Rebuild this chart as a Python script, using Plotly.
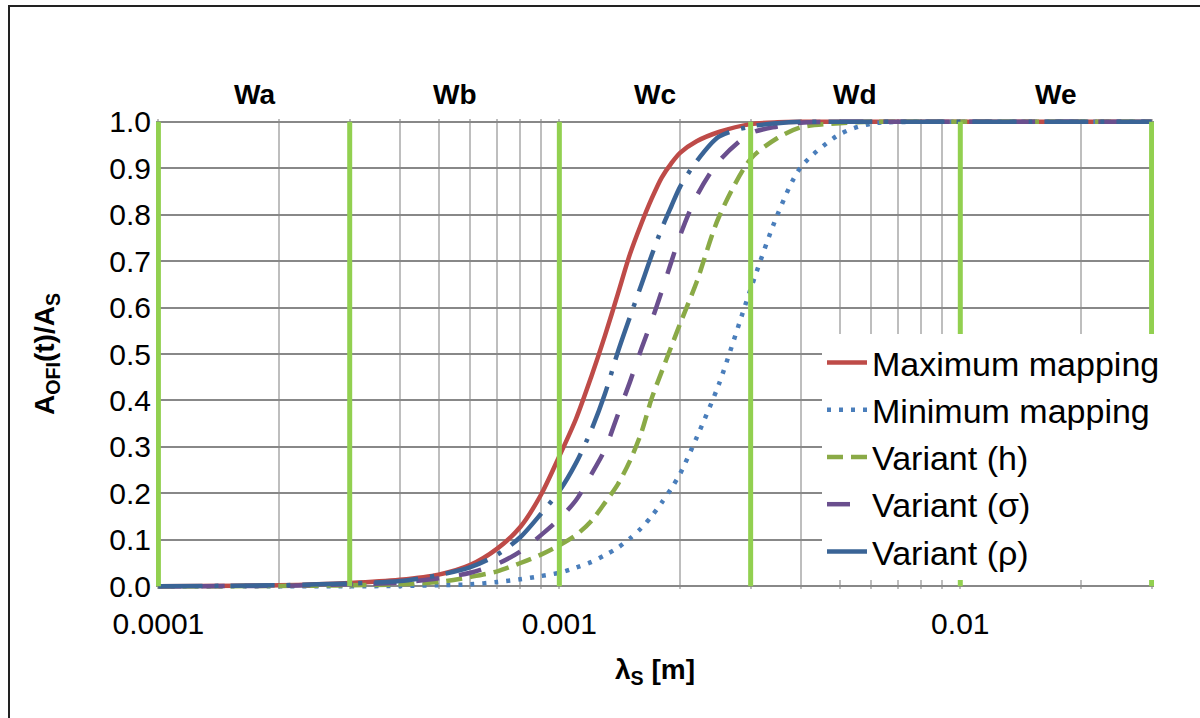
import math
import plotly.graph_objects as go

# ---------------- data ----------------
lam = [0.0001, 0.0002, 0.0003, 0.0004, 0.0005, 0.0006, 0.0007, 0.0008, 0.0009,
       0.001, 0.0011, 0.0012, 0.0013, 0.0014, 0.0015, 0.0016, 0.0017, 0.0018,
       0.0019, 0.002, 0.0022, 0.0025, 0.003, 0.0035, 0.004, 0.005, 0.006,
       0.008, 0.01, 0.015, 0.02, 0.03]

max_mapping = [0.0, 0.002, 0.007, 0.014, 0.025, 0.046, 0.081, 0.128, 0.197,
               0.28, 0.36, 0.45, 0.54, 0.63, 0.715, 0.78, 0.835, 0.88,
               0.91, 0.933, 0.958, 0.978, 0.995, 0.999, 1.0, 1.0, 1.0,
               1.0, 1.0, 1.0, 1.0, 1.0]

min_mapping = [0.0, 0.0, 0.0, 0.0005, 0.002, 0.004, 0.009, 0.015, 0.022,
               0.029, 0.04, 0.052, 0.067, 0.083, 0.103, 0.125, 0.151, 0.18,
               0.21, 0.242, 0.32, 0.435, 0.64, 0.80, 0.902, 0.973, 0.996,
               1.0, 1.0, 1.0, 1.0, 1.0]

variant_h = [0.0, 0.0005, 0.002, 0.004, 0.009, 0.02, 0.032, 0.05, 0.068,
             0.088, 0.11, 0.14, 0.18, 0.22, 0.27, 0.33, 0.405, 0.462,
             0.515, 0.565, 0.655, 0.795, 0.92, 0.965, 0.988, 0.997, 1.0,
             1.0, 1.0, 1.0, 1.0, 1.0]

variant_sigma = [0.0, 0.001, 0.004, 0.008, 0.017, 0.029, 0.048, 0.075, 0.11,
                 0.145, 0.185, 0.24, 0.295, 0.37, 0.44, 0.51, 0.572, 0.635,
                 0.697, 0.755, 0.84, 0.915, 0.975, 0.99, 0.998, 1.0, 1.0,
                 1.0, 1.0, 1.0, 1.0, 1.0]

variant_rho = [0.0, 0.002, 0.006, 0.011, 0.024, 0.041, 0.068, 0.106, 0.156,
               0.205, 0.265, 0.335, 0.415, 0.505, 0.58, 0.648, 0.713, 0.77,
               0.817, 0.86, 0.915, 0.968, 0.99, 0.997, 1.0, 1.0, 1.0,
               1.0, 1.0, 1.0, 1.0, 1.0]

zone_bounds = [0.0001, 0.0003, 0.001, 0.003, 0.01, 0.03]
zone_labels = ["Wa", "Wb", "Wc", "Wd", "We"]

x_tickvals = [0.0001, 0.0002, 0.0003, 0.0004, 0.0005, 0.0006, 0.0007, 0.0008, 0.0009,
              0.001, 0.002, 0.003, 0.004, 0.005, 0.006, 0.007, 0.008, 0.009,
              0.01, 0.02, 0.03]
x_ticktext = ["0.0001", "", "", "", "", "", "", "", "",
              "0.001", "", "", "", "", "", "", "", "",
              "0.01", "", ""]
y_tickvals = [0.0, 0.1, 0.2, 0.3, 0.4, 0.5, 0.6, 0.7, 0.8, 0.9, 1.0]

FONT = "Arial, Liberation Sans, sans-serif"

series = [
    ("Maximum mapping", max_mapping, "#BE4B48", "solid"),
    ("Minimum mapping", min_mapping, "#4A7EBB", "4px,8px"),
    ("Variant (h)", variant_h, "#8AAA46", "16px,8px"),
    ("Variant (σ)", variant_sigma, "#6A4F8E", "23px,20px"),
    ("Variant (ρ)", variant_rho, "#3A6496", "44px,12px,4px,12px"),
]

# plot-area geometry (pixels) used for paper-coordinate placement
L, R, T, B = 156, 46, 119, 129
PW, PH = 1200 - L - R, 718 - T - B
PAD_X, PAD_Y = 0.006, 0.006

fig = go.Figure()

for name, ys, color, dash in series:
    fig.add_trace(go.Scatter(
        x=lam, y=ys, name=name, mode="lines",
        line=dict(color=color, width=4.5, dash=dash, shape="spline", smoothing=0.8),
    ))

# green zone boundary lines
gx, gy = [], []
for b in zone_bounds:
    gx += [b, b, None]
    gy += [0.0, 1.0, None]
fig.add_trace(go.Scatter(x=gx, y=gy, mode="lines", showlegend=False,
                         hoverinfo="skip",
                         line=dict(color="#92D050", width=5)))

# zone labels
for i, lab in enumerate(zone_labels):
    xc = math.sqrt(zone_bounds[i] * zone_bounds[i + 1])
    fig.add_annotation(x=math.log10(xc), xref="x", y=(718 - B - 95) / PH, yref="paper",
                       text="<b>%s</b>" % lab, showarrow=False,
                       font=dict(family=FONT, size=28, color="black"),
                       yanchor="middle")

# outer frame
fig.add_shape(type="rect", xref="paper", yref="paper",
              x0=(9 - L) / PW, x1=(1212 - L) / PW,
              y0=(718 - B - 730) / PH, y1=(718 - B - 6) / PH,
              line=dict(color="#222222", width=2), fillcolor="rgba(0,0,0,0)")

fig.update_layout(
    width=1200, height=718, autosize=False,
    margin=dict(l=L, r=R, t=T, b=B),
    paper_bgcolor="white", plot_bgcolor="white",
    font=dict(family=FONT, color="black"),
    showlegend=True,
    legend=dict(x=(822 - L) / PW, xanchor="left", y=(718 - B - 334) / PH, yanchor="top",
                bgcolor="white", borderwidth=0,
                font=dict(family=FONT, size=34, color="black"),
                tracegroupgap=0, itemwidth=40),
    xaxis=dict(type="log", range=[-4 - PAD_X, math.log10(0.03) + PAD_X],
               tickvals=x_tickvals, ticktext=x_ticktext, tickangle=0,
               automargin=False,
               showgrid=True, gridcolor="#BEBEBE", gridwidth=1.5,
               showline=False, zeroline=False, ticks="",
               ticklabelstandoff=14,
               tickfont=dict(family=FONT, size=30, color="black"),
               title=dict(text="<b>λ<sub>S</sub> [m]</b>",
                          font=dict(family=FONT, size=28, color="black"),
                          standoff=20)),
    yaxis=dict(range=[-PAD_Y, 1 + PAD_Y], tickvals=y_tickvals, tickformat=".1f",
               automargin=False,
               showgrid=True, gridcolor="#888888", gridwidth=2,
               showline=False, zeroline=False, ticks="",
               ticklabelstandoff=4,
               tickfont=dict(family=FONT, size=30, color="black"),
               title=dict(text="<b>A<sub>OFI</sub>(t)/A<sub>S</sub></b>",
                          font=dict(family=FONT, size=28, color="black"),
                          standoff=46)),
)

fig.write_html("out.html")
